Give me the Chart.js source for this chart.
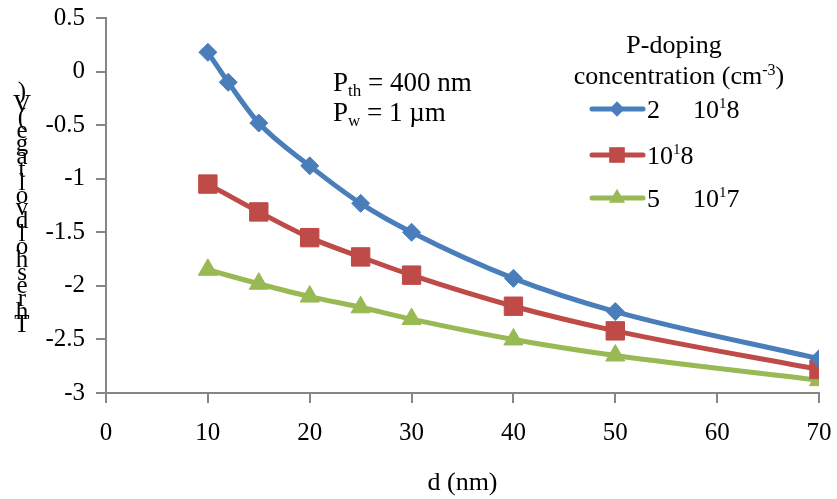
<!DOCTYPE html>
<html>
<head>
<meta charset="utf-8">
<script src="https://cdn.jsdelivr.net/npm/chart.js@4.4.1/dist/chart.umd.min.js"></script>
<style>
  html, body { margin: 0; padding: 0; background: #fff; }
  #wrap { width: 837px; height: 499px; }
</style>
</head>
<body>
<div id="wrap"><canvas id="chart" width="837" height="499"></canvas></div>
<script>
// datos
const dBlue = [10, 12, 15, 20, 25, 30, 40, 50, 70];
const vBlue = [0.18, -0.1, -0.48, -0.88, -1.23, -1.5, -1.93, -2.24, -2.68];
const dRed = [10, 15, 20, 25, 30, 40, 50, 70];
const vRed = [-1.05, -1.31, -1.55, -1.73, -1.9, -2.19, -2.42, -2.78];
const dGreen = [10, 15, 20, 25, 30, 40, 50, 70];
const vGreen = [-1.85, -1.98, -2.1, -2.2, -2.31, -2.5, -2.65, -2.88];
const xTicks = [0, 10, 20, 30, 40, 50, 60, 70];
const yTicks = [0.5, 0, -0.5, -1, -1.5, -2, -2.5, -3];
const yTitle = 'Threshold voltage (V)';
const xTitle = 'd (nm)';

const FONT = "'Liberation Serif', 'Times New Roman', serif";
const GRIS = '#868686';
const AZUL = '#4A7EBB';
const ROJO = '#BE4B48';
const VERDE = '#98B954';

const puntos = (xs, ys) => xs.map((x, i) => ({ x: x, y: ys[i] }));

const series = [
    { label: '2 10 18', data: puntos(dBlue, vBlue), color: AZUL, style: 'rectRot', r: 9 },
    { label: '10 18', data: puntos(dRed, vRed), color: ROJO, style: 'rect', r: 13 },
    { label: '5 10 17', data: puntos(dGreen, vGreen), color: VERDE, style: 'triangle', r: 11 }
];

function dibujarPunto(ctx, estilo, x, y, r, color) {
    ctx.save();
    ctx.fillStyle = color;
    ctx.beginPath();
    if (estilo === 'rectRot') {
        ctx.moveTo(x, y - r); ctx.lineTo(x + r, y); ctx.lineTo(x, y + r); ctx.lineTo(x - r, y);
    } else if (estilo === 'rect') {
        const s = r * Math.SQRT1_2;
        ctx.rect(x - s, y - s, 2 * s, 2 * s);
    } else {
        ctx.moveTo(x, y - r); ctx.lineTo(x + r * 0.866, y + r / 2); ctx.lineTo(x - r * 0.866, y + r / 2);
    }
    ctx.closePath();
    ctx.fill();
    ctx.restore();
}

// texto con sub/superíndices: partes [texto, 'n'|'sub'|'sup']
function textoMixto(ctx, partes, x, y, size, align) {
    const medir = p => {
        ctx.font = (p[1] === 'n' ? size : Math.round(size * 0.62)) + 'px ' + FONT;
        return ctx.measureText(p[0]).width;
    };
    const total = partes.reduce((s, p) => s + medir(p), 0);
    let cx = align === 'center' ? x - total / 2 : x;
    ctx.textAlign = 'left';
    ctx.textBaseline = 'alphabetic';
    partes.forEach(p => {
        const w = medir(p);
        let dy = 0;
        if (p[1] === 'sub') dy = size * 0.2;
        if (p[1] === 'sup') dy = -size * 0.36;
        ctx.fillText(p[0], cx, y + dy);
        cx += w;
    });
}

const anotaciones = {
    id: 'anotaciones',
    afterDraw(chart) {
        const ctx = chart.ctx;
        ctx.save();
        ctx.fillStyle = '#000';

        // título del eje Y, letras apiladas de abajo hacia arriba
        const letras = yTitle.replace(/ /g, '').split('');
        ctx.font = '25px ' + FONT;
        ctx.textAlign = 'center';
        ctx.textBaseline = 'middle';
        letras.forEach((c, i) => {
            ctx.fillText(c, 22, 325 - i * 12.9);
        });

        // parámetros
        textoMixto(ctx, [['P', 'n'], ['th', 'sub'], [' = 400 nm', 'n']], 333, 91, 27, 'left');
        textoMixto(ctx, [['P', 'n'], ['w', 'sub'], [' = 1 µm', 'n']], 333, 121, 27, 'left');

        // leyenda
        textoMixto(ctx, [['P-doping', 'n']], 674, 53, 26, 'center');
        textoMixto(ctx, [['concentration (cm', 'n'], ['-3', 'sup'], [')', 'n']], 679, 84, 26, 'center');

        const filas = [109, 155, 198];
        const etiquetas = [
            [['2', 647], ['10', 693]],
            [['10', 647]],
            [['5', 647], ['10', 693]]
        ];
        const exps = [['1', '8'], ['1', '8'], ['1', '7']];
        series.forEach((s, i) => {
            const y = filas[i];
            ctx.strokeStyle = s.color;
            ctx.lineWidth = 5;
            ctx.lineCap = 'round';
            ctx.beginPath();
            ctx.moveTo(592, y);
            ctx.lineTo(643, y);
            ctx.stroke();
            dibujarPunto(ctx, s.style, 617, y, s.r * 0.85, s.color);

            ctx.fillStyle = '#000';
            ctx.font = '26px ' + FONT;
            ctx.textAlign = 'left';
            ctx.textBaseline = 'alphabetic';
            let xFin = 0;
            etiquetas[i].forEach(t => {
                ctx.fillText(t[0], t[1], y + 9);
                xFin = t[1] + ctx.measureText(t[0]).width;
            });
            ctx.font = '15px ' + FONT;
            ctx.fillText(exps[i][0], xFin, y - 1);
            const w1 = ctx.measureText(exps[i][0]).width;
            ctx.font = '26px ' + FONT;
            ctx.fillText(exps[i][1], xFin + w1, y + 9);
        });
        ctx.restore();
    }
};

new Chart(document.getElementById('chart'), {
    type: 'line',
    data: {
        datasets: series.map(s => ({
            label: s.label,
            data: s.data,
            borderColor: s.color,
            backgroundColor: s.color,
            borderWidth: 5,
            pointStyle: s.style,
            pointRadius: s.r,
            pointHoverRadius: s.r,
            pointBorderWidth: 1,
            cubicInterpolationMode: 'monotone',
            fill: false
        }))
    },
    options: {
        responsive: false,
        animation: false,
        events: [],
        layout: { padding: { top: 18, right: 18, left: 0, bottom: 0 } },
        plugins: {
            legend: { display: false },
            tooltip: { enabled: false }
        },
        scales: {
            x: {
                type: 'linear',
                min: 0,
                max: 70,
                afterBuildTicks: s => { s.ticks = xTicks.map(v => ({ value: v })); },
                afterFit: s => {
                    s.height = 106;
                    s.paddingLeft = 0;
                    s.paddingRight = 0;
                },
                ticks: {
                    color: '#000',
                    font: { family: FONT, size: 25 },
                    padding: 15,
                    maxRotation: 0,
                    callback: v => String(v)
                },
                grid: { drawOnChartArea: false, drawTicks: true, tickLength: 10, color: GRIS, lineWidth: 2 },
                border: { display: true, color: GRIS, width: 2 },
                title: {
                    display: true,
                    text: xTitle,
                    color: '#000',
                    font: { family: FONT, size: 26 },
                    padding: { top: 0, bottom: 0 }
                }
            },
            y: {
                type: 'linear',
                min: -3,
                max: 0.5,
                afterBuildTicks: s => { s.ticks = yTicks.map(v => ({ value: v })); },
                afterFit: s => {
                    s.width = 106;
                    s.paddingTop = 0;
                    s.paddingBottom = 0;
                },
                ticks: {
                    color: '#000',
                    font: { family: FONT, size: 25 },
                    padding: 11,
                    callback: v => String(v)
                },
                grid: { drawOnChartArea: false, drawTicks: true, tickLength: 10, color: GRIS, lineWidth: 2 },
                border: { display: true, color: GRIS, width: 2 }
            }
        }
    },
    plugins: [anotaciones]
});
</script>
</body>
</html>
